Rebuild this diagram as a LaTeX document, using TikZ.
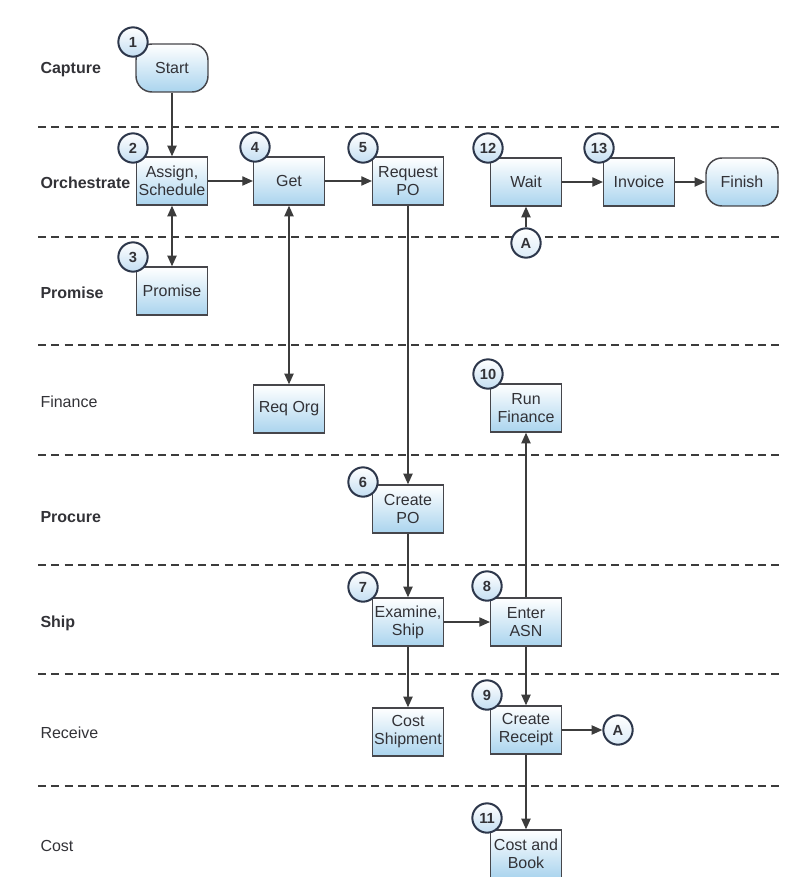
\documentclass[tikz,border=0pt]{standalone}
\usepackage{fontspec}
\setmainfont{Liberation Sans}
\usetikzlibrary{arrows.meta}

\definecolor{boxline}{RGB}{70,70,75}
\definecolor{boxblue}{RGB}{170,212,238}
\definecolor{numline}{RGB}{45,55,75}
\definecolor{numblue}{RGB}{196,222,242}
\definecolor{linegray}{RGB}{60,60,60}
\definecolor{textgray}{RGB}{50,50,55}

\tikzset{every picture/.style={line width=0.75pt}}

\begin{document}
\begin{tikzpicture}[x=0.75pt,y=0.75pt,yscale=-1,xscale=1,
	stepbox/.style={draw=boxline, line width=1.1pt, top color=white, bottom color=boxblue, minimum width=53pt, minimum height=36pt, inner sep=1pt, align=center, text=textgray, font=\fontsize{12}{13.5}\selectfont},
	term/.style={stepbox, rounded corners=12pt, minimum width=54pt},
	stepnum/.style={circle, draw=numline, line width=1.5pt, top color=white, bottom color=numblue, minimum size=22pt, inner sep=0pt, text=textgray, font=\bfseries\fontsize{11}{11}\selectfont},
	conn/.style={stepnum, top color=white, bottom color=numblue!60},
	lane/.style={anchor=west, inner sep=0pt, text=textgray, font=\bfseries\fontsize{12}{14}\selectfont},
	lanelight/.style={lane, font=\fontsize{12}{14}\selectfont},
	swim/.style={draw=linegray, line width=1.1pt, dash pattern=on 6pt off 4pt},
	flow/.style={draw=linegray, line width=0.9pt, -{Triangle[length=8pt,width=7pt]}},
	flowboth/.style={draw=linegray, line width=0.9pt, {Triangle[length=8pt,width=7pt]}-{Triangle[length=8pt,width=7pt]}}]
	\useasboundingbox (0,0) rectangle (786,877);
	
	%lanes
	\foreach \yy in {127,237,345,455,565,674,786} {
		\draw [swim] (38,\yy) -- (780,\yy) ;
	}
	\node [lane] (lcapture) at (40,70) {Capture};
	\node [lane] (lorch) at (40,183) {Orchestrate};
	\node [lane] (lpromise) at (40,293) {Promise};
	\node [lanelight] (lfinance) at (40,402) {Finance};
	\node [lane] (lprocure) at (40,517) {Procure};
	\node [lane] (lship) at (40,623) {Ship};
	\node [lanelight] (lreceive) at (40,733) {Receive};
	\node [lanelight] (lcost) at (40,846) {Cost};
	
	%steps
	\node [term] (start) at (172,68) {Start};
	\node [stepbox] (assign) at (172,181) {Assign,\\Schedule};
	\node [stepbox] (get) at (289,181) {Get};
	\node [stepbox] (request) at (408,181) {Request\\PO};
	\node [stepbox] (wait) at (526,182) {Wait};
	\node [stepbox] (invoice) at (639,182) {Invoice};
	\node [term] (finish) at (742,182) {Finish};
	\node [conn] (ain) at (526,243) {A};
	\node [stepbox] (promise) at (172,291) {Promise};
	\node [stepbox] (reqorg) at (289,409) {Req Org};
	\node [stepbox] (runfin) at (526,408) {Run\\Finance};
	\node [stepbox] (createpo) at (408,509) {Create\\PO};
	\node [stepbox] (examine) at (408,622) {Examine,\\Ship};
	\node [stepbox] (enterasn) at (526,622) {Enter\\ASN};
	\node [stepbox] (costship) at (408,732) {Cost\\Shipment};
	\node [stepbox] (receipt) at (526,730) {Create\\Receipt};
	\node [conn] (aout) at (618,730) {A};
	\node [stepbox] (costbook) at (526,854) {Cost and\\Book};
	
	%numbers
	\node [stepnum] (n1) at (133,42) {1};
	\node [stepnum] (n2) at (133,148) {2};
	\node [stepnum] (n3) at (133,257) {3};
	\node [stepnum] (n4) at (255,147) {4};
	\node [stepnum] (n5) at (363,148) {5};
	\node [stepnum] (n6) at (363,482) {6};
	\node [stepnum] (n7) at (363,587) {7};
	\node [stepnum] (n8) at (487,586) {8};
	\node [stepnum] (n9) at (487,695) {9};
	\node [stepnum] (n10) at (488,374) {10};
	\node [stepnum] (n11) at (487,818) {11};
	\node [stepnum] (n12) at (488,148) {12};
	\node [stepnum] (n13) at (599,148) {13};
	
	%flows
	\draw [flow] (start) -- (assign) ;
	\draw [flow] (assign) -- (get) ;
	\draw [flow] (get) -- (request) ;
	\draw [flowboth] (assign) -- (promise) ;
	\draw [flowboth] (get) -- (reqorg) ;
	\draw [flow] (request) -- (createpo) ;
	\draw [flow] (createpo) -- (examine) ;
	\draw [flow] (examine) -- (enterasn) ;
	\draw [flow] (examine) -- (costship) ;
	\draw [flow] (enterasn) -- (runfin) ;
	\draw [flow] (enterasn) -- (receipt) ;
	\draw [flow] (receipt) -- (aout) ;
	\draw [flow] (receipt) -- (costbook) ;
	\draw [flow] (ain) -- (wait) ;
	\draw [flow] (wait) -- (invoice) ;
	\draw [flow] (invoice) -- (finish) ;
	
\end{tikzpicture}
\end{document}
